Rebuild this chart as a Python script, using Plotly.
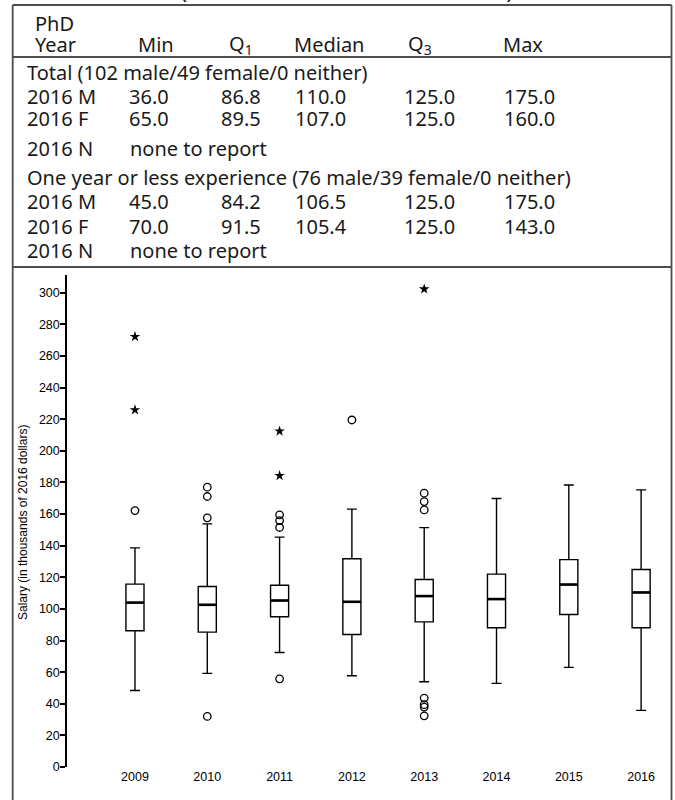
import plotly.graph_objects as go

# ---------------- data ----------------
years = ["2009", "2010", "2011", "2012", "2013", "2014", "2015", "2016"]
q1 = [86.2, 85.3, 95.0, 83.8, 91.8, 88.1, 96.5, 88.1]
median = [104.0, 102.6, 105.3, 104.5, 108.1, 106.2, 115.4, 110.4]
q3 = [115.7, 114.2, 115.0, 131.7, 118.6, 122.0, 131.2, 124.9]
lower_whisker = [48.4, 59.2, 72.4, 57.7, 53.9, 52.9, 63.0, 35.8]
upper_whisker = [138.6, 153.8, 145.4, 163.1, 151.4, 169.8, 178.4, 175.3]

# outliers (circles) and extreme values (stars)
outlier_year = ["2009", "2010", "2010", "2010", "2010", "2011", "2011", "2011", "2011",
                "2012", "2013", "2013", "2013", "2013", "2013", "2013", "2013"]
outlier_value = [162.2, 157.6, 171.1, 177.0, 32.0, 151.5, 155.9, 159.5, 55.8,
                 219.5, 162.6, 167.9, 173.2, 43.6, 39.4, 37.9, 32.4]
extreme_year = ["2009", "2009", "2011", "2011", "2013"]
extreme_value = [225.9, 272.2, 184.3, 212.4, 302.3]

y_ticks = [0, 20, 40, 60, 80, 100, 120, 140, 160, 180, 200, 220, 240, 260, 280, 300]

# table
table_header = ["Min", "Q<sub>1</sub>", "Median", "Q<sub>3</sub>", "Max"]
section_titles = ["Total (102 male/49 female/0 neither)",
                  "One year or less experience (76 male/39 female/0 neither)"]
row_labels = ["2016 M", "2016 F", "2016 N"]
total_M = ["36.0", "86.8", "110.0", "125.0", "175.0"]
total_F = ["65.0", "89.5", "107.0", "125.0", "160.0"]
oneyr_M = ["45.0", "84.2", "106.5", "125.0", "175.0"]
oneyr_F = ["70.0", "91.5", "105.4", "125.0", "143.0"]
none_text = "none to report"
title_text = "(in thousands of 2016 dollars)"
y_title = "Salary (in thousands of 2016 dollars)"

# ---------------- layout helpers (pixel -> paper) ----------------
L, R, T, B = 67, 672, 275, 767
W, H = R - L, B - T


def px(x):
    return (x - L) / W


def py(y):
    return (B - y) / H


xpos = {y: i for i, y in enumerate(years)}
BOXW = 0.25

fig = go.Figure()

fig.add_trace(go.Box(
    x=list(range(len(years))), q1=q1, median=median, q3=q3,
    lowerfence=lower_whisker, upperfence=upper_whisker,
    width=BOXW, whiskerwidth=0.55, boxpoints=False,
    fillcolor="white", line=dict(color="black", width=1.4),
    showlegend=False, hoverinfo="skip"))

# thick median lines
mx, my = [], []
for i, m in enumerate(median):
    mx += [i - BOXW / 2, i + BOXW / 2, None]
    my += [m, m, None]
fig.add_trace(go.Scatter(x=mx, y=my, mode="lines",
                         line=dict(color="black", width=2.6),
                         showlegend=False, hoverinfo="skip"))

fig.add_trace(go.Scatter(
    x=[xpos[y] for y in outlier_year], y=outlier_value, mode="markers",
    marker=dict(symbol="circle-open", size=7.5, color="black",
                line=dict(color="black", width=1.3)),
    showlegend=False, hoverinfo="skip"))
fig.add_trace(go.Scatter(
    x=[xpos[y] for y in extreme_year], y=extreme_value, mode="markers",
    marker=dict(symbol="star", size=8, color="black",
                line=dict(width=0)),
    showlegend=False, hoverinfo="skip"))

# ---------------- table text ----------------
TF = dict(family="Noto Sans", size=20, color="#1a1a1a")
ann = []


def txt(x, y, s, font=TF, **kw):
    d = dict(x=px(x), y=py(y), xref="paper", yref="paper", text=s,
             showarrow=False, xanchor="left", yanchor="middle", font=font)
    d.update(kw)
    ann.append(d)


col_x_head = [136, 227, 292, 406, 501]
col_x_val = [127, 219, 293, 402, 502]
XL = 25

txt(33, 23, "PhD")
txt(33, 44, "Year")
for cx, h in zip(col_x_head, table_header):
    txt(cx, 44, h)

txt(XL, 72, section_titles[0])
txt(XL, 96, row_labels[0])
for cx, v in zip(col_x_val, total_M):
    txt(cx, 96, v)
txt(XL, 119, row_labels[1])
for cx, v in zip(col_x_val, total_F):
    txt(cx, 119, v)
txt(XL, 148, row_labels[2])
txt(128, 148, none_text)

txt(XL, 177, section_titles[1])
txt(XL, 201, row_labels[0])
for cx, v in zip(col_x_val, oneyr_M):
    txt(cx, 201, v)
txt(XL, 226, row_labels[1])
for cx, v in zip(col_x_val, oneyr_F):
    txt(cx, 226, v)
txt(XL, 251, row_labels[2])
txt(128, 251, none_text)

# partially visible title at very top
ann.append(dict(x=px(347), y=py(-12), xref="paper", yref="paper", text=title_text,
                showarrow=False, xanchor="center", yanchor="middle",
                font=dict(family="Noto Sans", size=24, color="#1a1a1a")))

# y-axis title
ann.append(dict(x=px(23), y=py(523), xref="paper", yref="paper", text=y_title,
                showarrow=False, xanchor="center", yanchor="middle", textangle=-90,
                font=dict(family="Liberation Sans", size=12, color="black")))

# ---------------- frame lines ----------------
LC = dict(color="#4d4d4d", width=1.8)
shapes = [
    dict(type="line", xref="paper", yref="paper", x0=px(12.7), x1=px(671.5), y0=py(5), y1=py(5), line=LC),
    dict(type="line", xref="paper", yref="paper", x0=px(12.7), x1=px(671.5), y0=py(57), y1=py(57), line=LC),
    dict(type="line", xref="paper", yref="paper", x0=px(12.7), x1=px(671.5), y0=py(267), y1=py(267), line=LC),
    dict(type="line", xref="paper", yref="paper", x0=px(12.7), x1=px(12.7), y0=py(5), y1=py(810), line=LC),
    dict(type="line", xref="paper", yref="paper", x0=px(671.5), x1=px(671.5), y0=py(5), y1=py(810), line=LC),
]

fig.update_layout(
    width=675, height=800,
    margin=dict(l=L, r=675 - R, t=T, b=800 - B, pad=0),
    paper_bgcolor="white", plot_bgcolor="white",
    showlegend=False,
    annotations=ann, shapes=shapes,
    xaxis=dict(range=[-0.94, 7.427], tickvals=list(range(len(years))), ticktext=years,
               showline=False, showgrid=False, zeroline=False, ticks="",
               tickfont=dict(family="Liberation Sans", size=12.5, color="black"),
               fixedrange=True),
    yaxis=dict(range=[0, 311.2], tickvals=y_ticks, showline=True, linecolor="black",
               linewidth=1.5, ticks="outside", ticklen=5, tickwidth=1.5, tickcolor="black",
               showgrid=False, zeroline=False, ticklabelstandoff=-2,
               tickfont=dict(family="Liberation Sans", size=12.5, color="black"),
               fixedrange=True),
)

fig.write_html("out.html")
